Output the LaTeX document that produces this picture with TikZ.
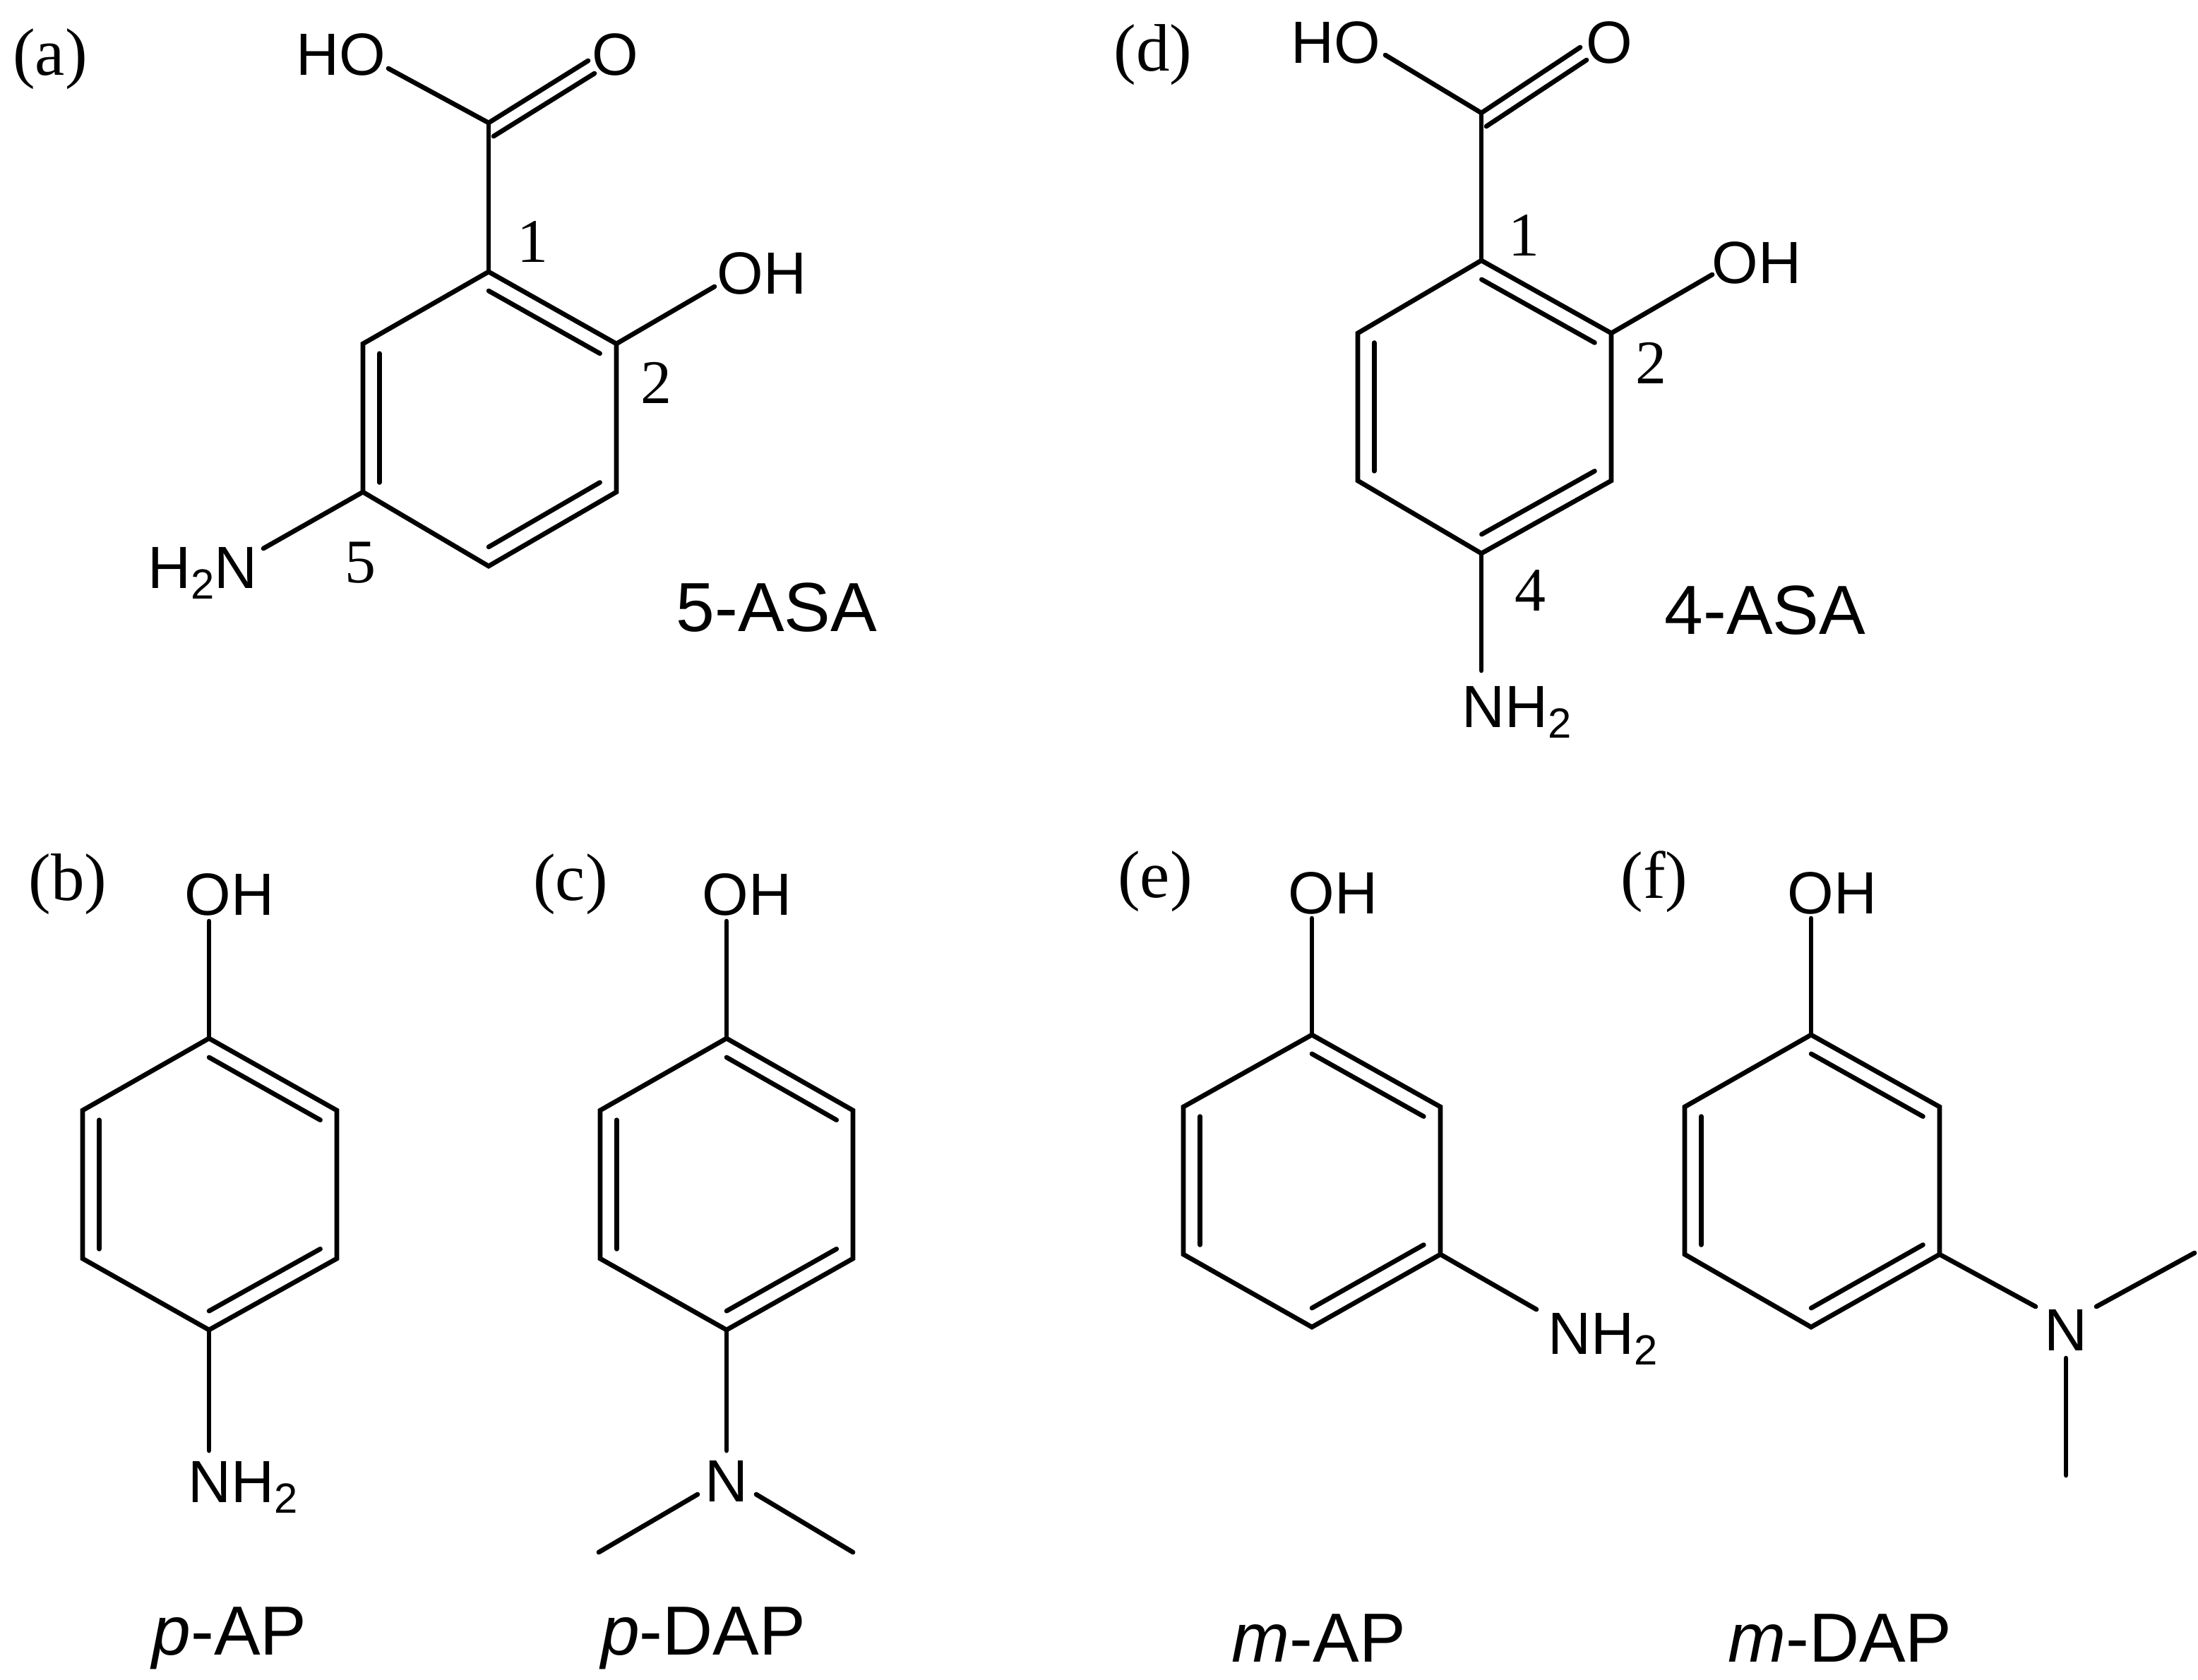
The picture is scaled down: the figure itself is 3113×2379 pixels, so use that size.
\documentclass[tikz,border=0pt]{standalone}
\usepackage{fontspec}
\setmainfont{Liberation Serif}
\newfontfamily\arial{Liberation Sans}
\usetikzlibrary{calc}
\newcommand{\subtwo}{\raisebox{-0.35ex}{\fontsize{17}{17}\selectfont 2}}
\tikzset{
  bond/.style={line width=1.9pt, line cap=round},
  atom/.style={inner sep=0pt, font=\arial\fontsize{24}{24}\selectfont},
  num/.style={inner sep=0pt, font=\fontsize{25}{25}\selectfont},
  panellbl/.style={inner sep=0pt, font=\fontsize{27}{27}\selectfont},
  molname/.style={inner sep=0pt, font=\arial\fontsize{28}{28}\selectfont}
}
\newcommand{\inner}[3]{\draw[bond] ($(#1)!0.13!(#3)$) -- ($(#2)!0.13!(#3)$);}
\begin{document}
\begin{tikzpicture}[x=0.01cm,y=-0.01cm]
\useasboundingbox (0,0) rectangle (3113,2379);
% ---------- (a) 5-ASA
\node[panellbl] (pa) at (71,84) {(a)};
\coordinate (aC) at (692,174);
\coordinate (a1) at (692,385); \coordinate (a2) at (873,487); \coordinate (a3) at (873,697);
\coordinate (a4) at (692,802); \coordinate (a5) at (514,697); \coordinate (a6) at (514,487);
\coordinate (acen) at (693,593);
\draw[bond] (a1)--(a2)--(a3)--(a4)--(a5)--(a6)--cycle;
\inner{a1}{a2}{acen} \inner{a3}{a4}{acen} \inner{a5}{a6}{acen}
\coordinate (aHOe) at (550,97); \coordinate (aOe) at (833,86);
\draw[bond] (aC)--(a1);
\draw[bond] (aC)--(aHOe);
\draw[bond] (aC)--(aOe);
\coordinate (aC2) at (699,193); \coordinate (aO2) at (842,104);
\draw[bond] (aC2)--(aO2);
\node[atom] (aHO) at (483,77) {HO};
\node[atom] (aO) at (871,77) {O};
\coordinate (aOHe) at (1012,406);
\draw[bond] (a2)--(aOHe);
\node[atom] (aOH) at (1079,387) {OH};
\coordinate (aNe) at (373,777);
\draw[bond] (a5)--(aNe);
\node[atom,anchor=base east] (aN) at (365,833) {H\subtwo N};
\node[num] (l1a) at (754,342) {1};
\node[num] (l2a) at (929,542) {2};
\node[num] (l5a) at (510,797) {5};
\node[molname] (na) at (1100,861) {5-ASA};
% ---------- (d) 4-ASA
\node[panellbl] (pd) at (1633,78) {(d)};
\coordinate (dC) at (2098,160);
\coordinate (d1) at (2098,369); \coordinate (d2) at (2282,472); \coordinate (d3) at (2282,681);
\coordinate (d4) at (2098,784); \coordinate (d5) at (1923,681); \coordinate (d6) at (1923,472);
\coordinate (dcen) at (2101,576);
\draw[bond] (d1)--(d2)--(d3)--(d4)--(d5)--(d6)--cycle;
\inner{d1}{d2}{dcen} \inner{d3}{d4}{dcen} \inner{d5}{d6}{dcen}
\coordinate (dHOe) at (1962,78); \coordinate (dOe) at (2238,67);
\draw[bond] (dC)--(d1);
\draw[bond] (dC)--(dHOe);
\draw[bond] (dC)--(dOe);
\coordinate (dC2) at (2105,179); \coordinate (dO2) at (2247,85);
\draw[bond] (dC2)--(dO2);
\node[atom] (dHO) at (1892,60) {HO};
\node[atom] (dO) at (2279,60) {O};
\coordinate (dOHe) at (2425,389);
\draw[bond] (d2)--(dOHe);
\node[atom] (dOH) at (2488,372) {OH};
\coordinate (dNe) at (2098,950);
\draw[bond] (d4)--(dNe);
\node[atom,anchor=base west] (dN) at (2070,1030) {NH\subtwo};
\node[num] (l1d) at (2158,333) {1};
\node[num] (l2d) at (2338,514) {2};
\node[num] (l4d) at (2167,837) {4};
\node[molname] (nd) at (2500,865) {4-ASA};
% ---------- (b) p-AP
\node[panellbl] (pb) at (96,1253) {(b)};
\coordinate (b1) at (296,1471); \coordinate (b2) at (477,1573); \coordinate (b3) at (477,1783);
\coordinate (b4) at (296,1884); \coordinate (b5) at (117,1783); \coordinate (b6) at (117,1573);
\coordinate (bcen) at (297,1678);
\draw[bond] (b1)--(b2)--(b3)--(b4)--(b5)--(b6)--cycle;
\inner{b1}{b2}{bcen} \inner{b3}{b4}{bcen} \inner{b5}{b6}{bcen}
\coordinate (bOe) at (296,1305);
\draw[bond] (b1)--(bOe);
\node[atom] (bOH) at (325,1267) {OH};
\coordinate (bNe) at (296,2055);
\draw[bond] (b4)--(bNe);
\node[atom,anchor=base west] (bN) at (266,2128) {NH\subtwo};
\node[molname] (nb) at (325,2321) {\itshape p\upshape-AP};
% ---------- (c) p-DAP
\node[panellbl] (pc) at (808,1253) {(c)};
\coordinate (c1) at (1029,1471); \coordinate (c2) at (1208,1573); \coordinate (c3) at (1208,1783);
\coordinate (c4) at (1029,1884); \coordinate (c5) at (850,1783); \coordinate (c6) at (850,1573);
\coordinate (ccen) at (1029,1678);
\draw[bond] (c1)--(c2)--(c3)--(c4)--(c5)--(c6)--cycle;
\inner{c1}{c2}{ccen} \inner{c3}{c4}{ccen} \inner{c5}{c6}{ccen}
\coordinate (cOe) at (1029,1305);
\draw[bond] (c1)--(cOe);
\node[atom] (cOH) at (1058,1267) {OH};
\coordinate (cNe) at (1029,2055);
\draw[bond] (c4)--(cNe);
\node[atom] (cN) at (1029,2098) {N};
\coordinate (cm1a) at (988,2117); \coordinate (cm1b) at (848,2199);
\coordinate (cm2a) at (1071,2117); \coordinate (cm2b) at (1208,2199);
\draw[bond] (cm1a)--(cm1b);
\draw[bond] (cm2a)--(cm2b);
\node[molname] (nc) at (996,2321) {\itshape p\upshape-DAP};
% ---------- (e) m-AP
\node[panellbl] (pe) at (1636,1249) {(e)};
\coordinate (e1) at (1858,1466); \coordinate (e2) at (2040,1568); \coordinate (e3) at (2040,1777);
\coordinate (e4) at (1858,1880); \coordinate (e5) at (1676,1777); \coordinate (e6) at (1676,1568);
\coordinate (ecen) at (1858,1673);
\draw[bond] (e1)--(e2)--(e3)--(e4)--(e5)--(e6)--cycle;
\inner{e1}{e2}{ecen} \inner{e3}{e4}{ecen} \inner{e5}{e6}{ecen}
\coordinate (eOe) at (1858,1301);
\draw[bond] (e1)--(eOe);
\node[atom] (eOH) at (1888,1265) {OH};
\coordinate (eNe) at (2176,1855);
\draw[bond] (e3)--(eNe);
\node[atom,anchor=base west] (eN) at (2192,1918) {NH\subtwo};
\node[molname] (ne) at (1868,2321) {\itshape m\upshape-AP};
% ---------- (f) m-DAP
\node[panellbl] (pf) at (2343,1249) {(f)};
\coordinate (f1) at (2565,1466); \coordinate (f2) at (2747,1568); \coordinate (f3) at (2747,1777);
\coordinate (f4) at (2565,1880); \coordinate (f5) at (2386,1777); \coordinate (f6) at (2386,1568);
\coordinate (fcen) at (2566,1673);
\draw[bond] (f1)--(f2)--(f3)--(f4)--(f5)--(f6)--cycle;
\inner{f1}{f2}{fcen} \inner{f3}{f4}{fcen} \inner{f5}{f6}{fcen}
\coordinate (fOe) at (2565,1301);
\draw[bond] (f1)--(fOe);
\node[atom] (fOH) at (2595,1265) {OH};
\coordinate (fNe) at (2883,1851);
\draw[bond] (f3)--(fNe);
\node[atom] (fN) at (2926,1884) {N};
\coordinate (fm1a) at (2969,1851); \coordinate (fm1b) at (3108,1775);
\coordinate (fm2a) at (2926,1924); \coordinate (fm2b) at (2926,2090);
\draw[bond] (fm1a)--(fm1b);
\draw[bond] (fm2a)--(fm2b);
\node[molname] (nf) at (2606,2321) {\itshape m\upshape-DAP};
\end{tikzpicture}
\end{document}
